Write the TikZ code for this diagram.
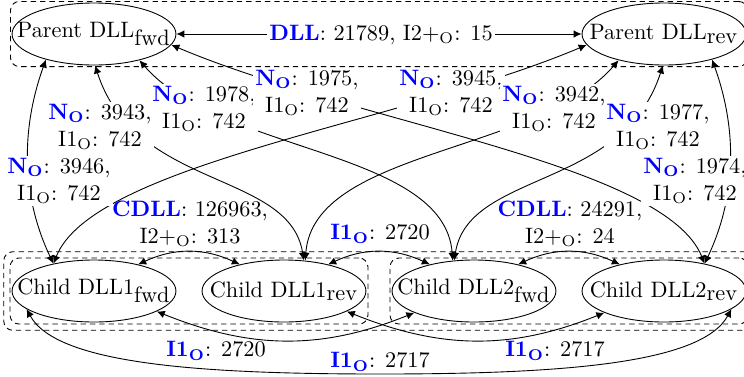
\documentclass[tikz,border=0pt]{standalone}
\usetikzlibrary{arrows.meta,fit,shapes.geometric}
\newcommand{\mylN}{\textcolor{blue}{\textbf{N}$_{\mathbf{O}}$}}
\newcommand{\mylI}{I1$_{\mathrm{O}}$}
\newcommand{\mylIb}{\textcolor{blue}{\textbf{I1}$_{\mathbf{O}}$}}
\newcommand{\mylIIp}{I2+$_{\mathrm{O}}$}
\newcommand{\mysub}[1]{$_{\mbox{#1}}$}
\begin{document}
\begin{tikzpicture}[x=0.4484pt,y=-0.4484pt,
  dll/.style={ellipse, draw, minimum width=73.5pt, minimum height=27.8pt, inner sep=0pt},
  lab/.style={fill=white, inner sep=1pt, align=center},
  plainlab/.style={inner sep=1pt, align=center},
  grp/.style={draw, dash pattern=on 2.4pt off 1.8pt, rounded corners=4pt},
  link/.style={{Latex[length=3.6pt,width=3.4pt]}-{Latex[length=3.6pt,width=3.4pt]}},
]
\useasboundingbox (0,0) rectangle (744,376);
% ellipses
\node[dll] (PF)  at (94,34)  {\makebox[0pt]{Parent DLL\mysub{fwd}}};
\node[dll] (PR)  at (664,34) {\makebox[0pt]{Parent DLL\mysub{rev}}};
\node[dll] (C1F) at (94,291)  {\makebox[0pt]{Child DLL1\mysub{fwd}}};
\node[dll] (C1R) at (284,291) {\makebox[0pt]{Child DLL1\mysub{rev}}};
\node[dll] (C2F) at (474,291) {\makebox[0pt]{Child DLL2\mysub{fwd}}};
\node[dll] (C2R) at (664,291) {\makebox[0pt]{Child DLL2\mysub{rev}}};
% groups
\node[grp, fit=(PF)(PR), inner sep=0.5pt] (GP) {};
\node[grp, fit=(C1F)(C1R), inner sep=0.7pt] (G1) {};
\node[grp, fit=(C2F)(C2R), inner sep=0.7pt] (G2) {};
\node[grp, fit=(G1)(G2), inner sep=2.6pt] (GC) {};
\coordinate (bot) at (380,374);
% parent -> children
\draw[link] (PF.-152) .. controls +(-27,75) and +(-30,-63) .. (C1F.146);
\draw[link] (PF.-88) .. controls +(40,125) and +(-14,-90) .. (C1R.57);
\draw[link] (PF.-30) .. controls +(80,93) and +(-8,-111) .. (C2F.125);
\draw[link] (PF.-8) .. controls +(184,78) and +(-40,-100) .. (C2R.34);
\draw[link] (PR.-28) .. controls +(27,75) and +(30,-63) .. (C2R.34);
\draw[link] (PR.-92) .. controls +(-40,125) and +(14,-90) .. (C2F.123);
\draw[link] (PR.-150) .. controls +(-80,93) and +(8,-111) .. (C1R.55);
\draw[link] (PR.-172) .. controls +(-184,78) and +(40,-100) .. (C1F.146);
% parent - parent
\draw[link] (PF) -- (PR);
% child - child
\draw[link] (C1F.31) to[out=25,in=155] (C1R.149);
\draw[link] (C1R.31) to[out=25,in=155] (C2F.149);
\draw[link] (C2F.31) to[out=25,in=155] (C2R.149);
\draw[link] (C1F.-18) to[out=-22,in=-158] (C2F.-160);
\draw[link] (C1R.-18) to[out=-22,in=-158] (C2R.-160);
\draw[link] (C1F.-165) .. controls +(30,55) and +(-180,0) .. (bot)
                       .. controls +(180,0) and +(-30,55) .. (C2R.-15);
% labels
\node[lab] (Ldll) at (381,35) {\textcolor{blue}{\textbf{DLL}}: 21789, \mylIIp: 15};
\node[lab] (L3946) at (59,181) {\mylN: 3946,\\\mylI: 742};
\node[lab] (L3943) at (100,127) {\mylN: 3943,\\\mylI: 742};
\node[lab] (L1978) at (204,109) {\mylN: 1978,\\\mylI: 742};
\node[lab] (L1975) at (307,93) {\mylN: 1975,\\\mylI: 742};
\node[lab] (L3945) at (451,93) {\mylN: 3945,\\\mylI: 742};
\node[lab] (L3942) at (554,109) {\mylN: 3942,\\\mylI: 742};
\node[lab] (L1977) at (658,127) {\mylN: 1977,\\\mylI: 742};
\node[lab] (L1974) at (695,181) {\mylN: 1974,\\\mylI: 742};
\node[plainlab] (Lc1) at (190,224) {\textcolor{blue}{\textbf{CDLL}}: 126963,\\\mylIIp: 313};
\node[plainlab] (Lm) at (380,234) {\mylIb: 2720};
\node[plainlab] (Lc2) at (570,224) {\textcolor{blue}{\textbf{CDLL}}: 24291,\\\mylIIp: 24};
\node[plainlab] (Lb1) at (216,351) {\mylIb: 2720};
\node[plainlab] (Lb2) at (555,351) {\mylIb: 2717};
\node[plainlab] (Lb3) at (380,362) {\mylIb: 2717};
\end{tikzpicture}
\end{document}
